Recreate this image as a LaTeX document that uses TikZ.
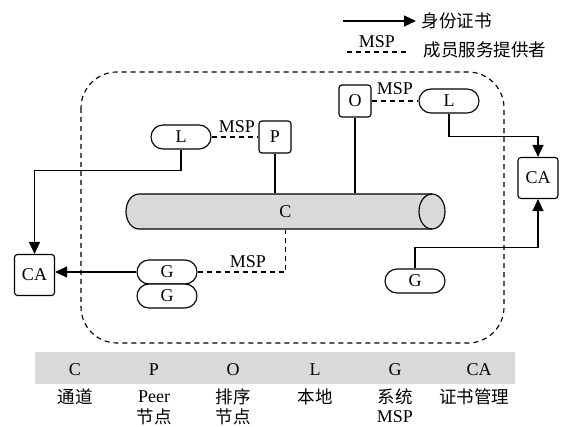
\documentclass[tikz,border=0pt]{standalone}
\usepackage{fontspec}
\setmainfont{Liberation Serif}
\newfontfamily\cjk{Noto Sans CJK SC}
\usetikzlibrary{arrows.meta}
\definecolor{cylgray}{HTML}{D9D9D9}
\definecolor{bargray}{HTML}{D9D9D9}
\begin{document}
\begin{tikzpicture}[x=1pt,y=1pt,line width=1.15pt,
  every node/.style={font=\fontsize{18}{21}\selectfont, inner sep=0pt},
  box/.style={draw, rounded corners=3pt, minimum width=32pt, minimum height=32pt},
  cabox/.style={draw, rounded corners=3pt, minimum width=40pt, minimum height=41pt},
  stad/.style={draw, rounded corners=12pt, minimum width=60pt, minimum height=24pt, fill=white},
  arr/.style={-{Triangle[length=12pt,width=11pt]}},
  msp/.style={dash pattern=on 5pt off 4pt},
  cjkt/.style={font=\fontsize{17.5}{21}\selectfont\cjk}
]
\useasboundingbox (0,0) rectangle (563,-427);

% legend
\coordinate (la1) at (343,-21);
\coordinate (la2) at (416,-21);
\draw[arr] (la1) -- (la2);
\node[cjkt, anchor=west] (lt1) at (421,-21) {身份证书};
\coordinate (ld1) at (347,-52);
\coordinate (ld2) at (407,-52);
\draw[msp] (ld1) -- (ld2);
\node (lm) at (377,-42) {MSP};
\node[cjkt, anchor=west] (lt2) at (423,-50) {成员服务提供者};

% dashed region
\draw[msp, rounded corners=36pt] (81,-72) rectangle (504,-343);

% cylinder (channel)
\fill[cylgray] (139,-194) -- (432,-194) arc[start angle=90,end angle=-90,x radius=13,y radius=17.5]
  -- (139,-229) arc[start angle=270,end angle=90,x radius=13,y radius=17.5] -- cycle;
\draw (432,-194) -- (139,-194) arc[start angle=90,end angle=270,x radius=13,y radius=17.5] -- (432,-229);
\draw (432,-211.5) ellipse [x radius=13, y radius=17.5];
\node[minimum width=319pt, minimum height=35pt] (C) at (285.5,-211.5) {C};

% nodes
\node[stad] (L1) at (181,-137) {L};
\node[box] (P) at (275,-137) {P};
\node[box] (O) at (355,-101) {O};
\node[stad] (L2) at (449,-101) {L};
\node[cabox] (CA2) at (538,-178) {CA};
\node[cabox] (CA1) at (34.5,-275) {CA};
\node[stad] (G1) at (167,-272) {G};
\node[stad] (G2) at (167,-296) {G};
\node[stad] (G3) at (415,-281) {G};

% connectors
\draw[msp] (L1.east) -- (P.west);
\node (m1) at (237,-127) {MSP};
\draw[msp] (O.east) -- (L2.west);
\node (m2) at (395,-89) {MSP};
\draw (P.south) -- (P.south |- C.north);
\draw (O.south) -- (O.south |- C.north);
\draw[arr] (L1.south) -- ([yshift=-21pt]L1.south) -| (CA1.north);
\draw[arr] (L2.south) -- ([yshift=-23pt]L2.south) -| (CA2.north);
\draw[arr] (G3.north) -- ([yshift=21pt]G3.north) -| (CA2.south);
\draw[arr] (G1.west) -- (G1.west -| CA1.east);
\draw[msp] (G1.east) -| (C.south);
\node (m3) at (248,-262) {MSP};

% legend table
\fill[bargray] (35,-352) rectangle (515,-384);
\node (tC) at (75,-370) {C};
\node (tP) at (154,-370) {P};
\node (tO) at (233,-370) {O};
\node (tL) at (315,-370) {L};
\node (tG) at (395,-370) {G};
\node (tCA) at (479,-370) {CA};
\node[cjkt] (dC) at (75,-397) {通道};
\node (dP) at (154,-397) {Peer};
\node[cjkt] (dO) at (233,-397) {排序};
\node[cjkt] (dL) at (315,-397) {本地};
\node[cjkt] (dG) at (395,-397) {系统};
\node[cjkt] (dCA) at (474,-397) {证书管理};
\node[cjkt] (eP) at (154,-417) {节点};
\node[cjkt] (eO) at (233,-417) {节点};
\node (eG) at (395,-417) {MSP};
\end{tikzpicture}
\end{document}
